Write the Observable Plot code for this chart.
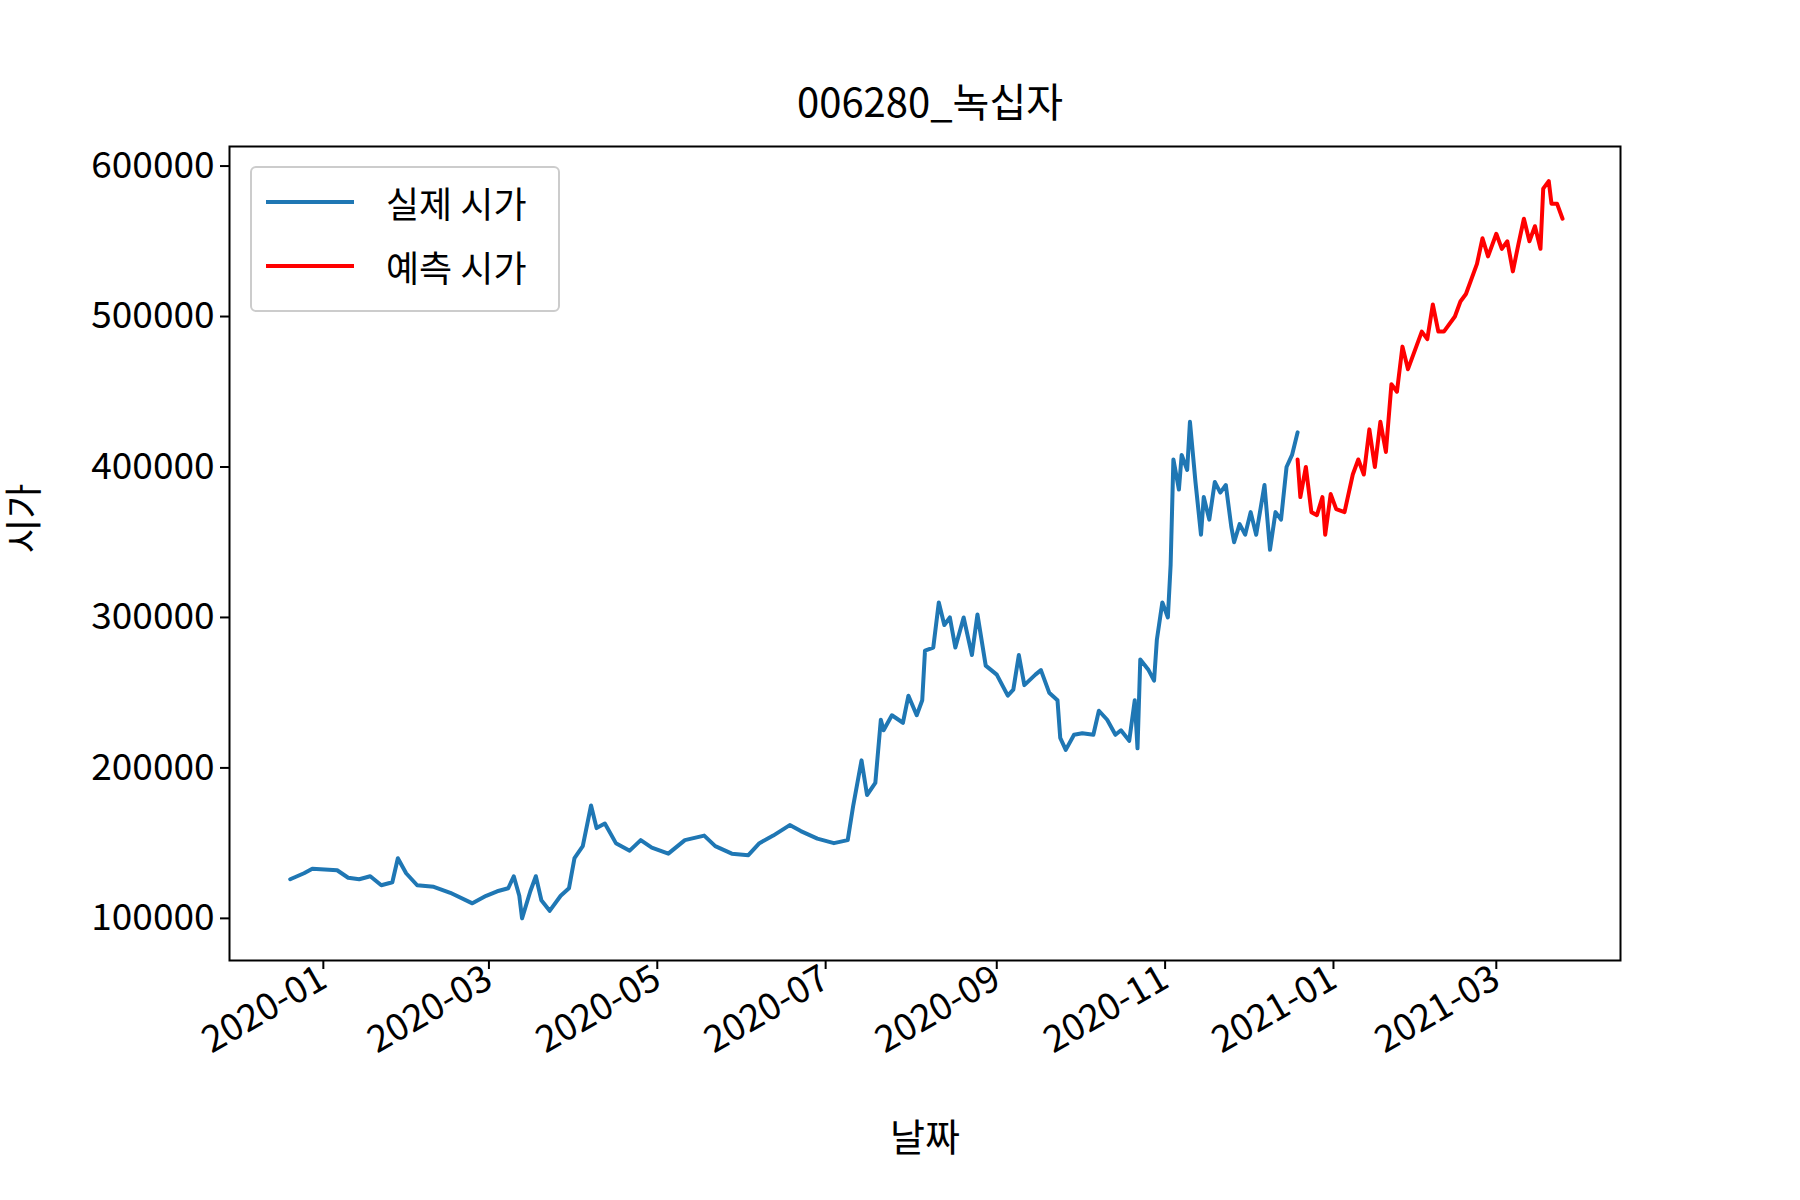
<!DOCTYPE html>
<html>
<head>
<meta charset="utf-8">
<script src="https://cdn.jsdelivr.net/npm/d3@7"></script>
<script src="https://cdn.jsdelivr.net/npm/@observablehq/plot@0.6"></script>
<style>
  body { margin: 0; background: #fff; font-family: "Noto Sans CJK KR", "Noto Sans", sans-serif; }
  #wrap { position: relative; width: 1800px; height: 1200px; }
  #title { height: 124px; line-height: 200px; text-align: center; font-size: 40px; padding-left: 60px; box-sizing: border-box; }
  #legend { position: absolute; left: 250px; top: 166px; width: 306px; height: 142px; border: 2px solid #ccc; border-radius: 6px; background: #fff; font-size: 36px; }
  .item { position: absolute; left: 14px; height: 40px; display: flex; align-items: center; }
  .swatch { width: 88px; height: 4px; margin-right: 32px; }
</style>
</head>
<body>
<div id="wrap">
  <div id="title">006280_녹십자</div>
  <div id="chart"></div>
  <div id="legend"></div>
</div>
<script>
const actualDates = ["2019-12-20","2019-12-25","2019-12-28","2020-01-06","2020-01-10","2020-01-14","2020-01-18","2020-01-22","2020-01-26","2020-01-28","2020-01-31","2020-02-04","2020-02-10","2020-02-16","2020-02-24","2020-02-29","2020-03-04","2020-03-08","2020-03-10","2020-03-12","2020-03-13","2020-03-16","2020-03-18","2020-03-20","2020-03-23","2020-03-27","2020-03-30","2020-04-01","2020-04-04","2020-04-07","2020-04-09","2020-04-12","2020-04-16","2020-04-21","2020-04-25","2020-04-29","2020-05-05","2020-05-11","2020-05-18","2020-05-22","2020-05-28","2020-06-03","2020-06-07","2020-06-12","2020-06-18","2020-06-22","2020-06-28","2020-07-04","2020-07-09","2020-07-11","2020-07-14","2020-07-16","2020-07-19","2020-07-21","2020-07-22","2020-07-25","2020-07-29","2020-07-31","2020-08-03","2020-08-05","2020-08-06","2020-08-09","2020-08-11","2020-08-13","2020-08-15","2020-08-17","2020-08-20","2020-08-23","2020-08-25","2020-08-28","2020-09-01","2020-09-05","2020-09-07","2020-09-09","2020-09-11","2020-09-15","2020-09-17","2020-09-20","2020-09-23","2020-09-24","2020-09-26","2020-09-29","2020-10-02","2020-10-06","2020-10-08","2020-10-11","2020-10-14","2020-10-16","2020-10-19","2020-10-21","2020-10-22","2020-10-23","2020-10-26","2020-10-28","2020-10-29","2020-10-31","2020-11-02","2020-11-03","2020-11-04","2020-11-06","2020-11-07","2020-11-09","2020-11-10","2020-11-12","2020-11-14","2020-11-15","2020-11-17","2020-11-19","2020-11-21","2020-11-23","2020-11-25","2020-11-26","2020-11-28","2020-11-30","2020-12-02","2020-12-04","2020-12-07","2020-12-09","2020-12-11","2020-12-13","2020-12-15","2020-12-17","2020-12-19"];
const actualValues = [126000,130000,133000,132000,127000,126000,128000,122000,124000,140000,130000,122000,121000,117000,110000,115000,118000,120000,128000,115000,100000,118000,128000,112000,105000,115000,120000,140000,148000,175000,160000,163000,150000,145000,152000,147000,143000,152000,155000,148000,143000,142000,150000,155000,162000,158000,153000,150000,152000,175000,205000,182000,190000,232000,225000,235000,230000,248000,235000,245000,278000,280000,310000,295000,300000,280000,300000,275000,302000,268000,262000,248000,252000,275000,255000,262000,265000,250000,245000,220000,212000,222000,223000,222000,238000,232000,222000,225000,218000,245000,213000,272000,265000,258000,285000,310000,300000,335000,405000,385000,408000,398000,430000,390000,355000,380000,365000,390000,383000,388000,360000,350000,362000,355000,370000,355000,388000,345000,370000,365000,400000,408000,423000];
const predDates = ["2020-12-19","2020-12-20","2020-12-22","2020-12-24","2020-12-26","2020-12-28","2020-12-29","2020-12-31","2021-01-02","2021-01-05","2021-01-08","2021-01-10","2021-01-12","2021-01-14","2021-01-16","2021-01-18","2021-01-20","2021-01-22","2021-01-24","2021-01-26","2021-01-28","2021-01-30","2021-02-02","2021-02-04","2021-02-06","2021-02-08","2021-02-10","2021-02-14","2021-02-16","2021-02-18","2021-02-22","2021-02-24","2021-02-26","2021-03-01","2021-03-03","2021-03-05","2021-03-07","2021-03-09","2021-03-11","2021-03-13","2021-03-15","2021-03-17","2021-03-18","2021-03-20","2021-03-21","2021-03-23","2021-03-25"];
const predValues = [405000,380000,400000,370000,368000,380000,355000,382000,372000,370000,395000,405000,395000,425000,400000,430000,410000,455000,450000,480000,465000,475000,490000,485000,508000,490000,490000,500000,510000,515000,535000,552000,540000,555000,545000,550000,530000,548000,565000,550000,560000,545000,585000,590000,575000,575000,565000];
const seriesNames = ["실제 시가", "예측 시가"];
const seriesColors = ["#1f77b4", "red"];

const toRows = (dates, values) => dates.map((d, i) => ({date: new Date(d), value: values[i]}));
const actual = toRows(actualDates, actualValues);
const pred = toRows(predDates, predValues);

const chart = Plot.plot({
  width: 1800,
  height: 1076,
  marginTop: 22,
  marginLeft: 229,
  marginRight: 180,
  marginBottom: 240,
  style: {fontSize: "37px", fontFamily: "Noto Sans CJK KR, sans-serif", color: "black"},
  x: {type: "utc", domain: [new Date("2019-11-28"), new Date("2021-04-15")]},
  y: {domain: [72000, 613000]},
  marks: [
    Plot.axisX({ticks: d3.utcMonth.every(2), tickFormat: d3.utcFormat("%Y-%m"), tickRotate: -30, tickSize: 9, tickPadding: 6, label: null, strokeWidth: 2}),
    Plot.axisY({ticks: [100000, 200000, 300000, 400000, 500000, 600000], tickFormat: d => String(d), tickSize: 9, tickPadding: 6, label: null, strokeWidth: 2}),
    Plot.text(["날짜"], {frameAnchor: "bottom", dy: 190, fontSize: 38}),
    Plot.text(["시가"], {frameAnchor: "left", dx: -205, rotate: -90, fontSize: 38}),
    Plot.line(actual, {x: "date", y: "value", stroke: seriesColors[0], strokeWidth: 4}),
    Plot.line(pred, {x: "date", y: "value", stroke: seriesColors[1], strokeWidth: 4}),
    Plot.frame({stroke: "black", strokeWidth: 2})
  ]
});
document.getElementById("chart").appendChild(chart);

const legend = document.getElementById("legend");
seriesNames.forEach((name, i) => {
  const item = document.createElement("div");
  item.className = "item";
  item.style.top = (14 + i * 64) + "px";
  item.innerHTML = `<span class="swatch" style="background:${seriesColors[i]}"></span><span>${name}</span>`;
  legend.appendChild(item);
});
</script>
</body>
</html>
